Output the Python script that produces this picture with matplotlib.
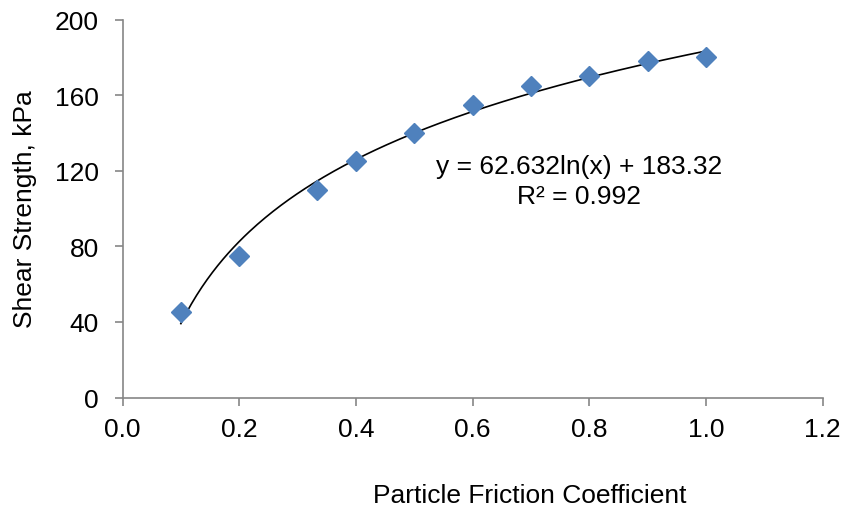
import numpy as np
import matplotlib
matplotlib.use('Agg')
from matplotlib import pyplot as plt

# data
friction = [0.1, 0.2, 0.333, 0.4, 0.5, 0.6, 0.7, 0.8, 0.9, 1.0]
strength = [45, 75, 110, 125, 140, 155, 165, 170, 178, 180]

# log trendline coefficients shown on the chart
coef_a = 62.632
coef_b = 183.32
r2 = 0.992

plt.rcParams['font.family'] = ['Liberation Sans', 'DejaVu Sans']

fig = plt.figure(figsize=(8.42, 5.10), dpi=100)
ax = fig.add_axes([0.1455, 0.2186, 0.8314, 0.7412])

xs = np.linspace(min(friction), max(friction), 200)
ax.plot(xs, coef_a * np.log(xs) + coef_b, color='black', lw=1.2, zorder=2)
ax.plot(friction, strength, 'D', color='#4F81BD', ms=10.5, mec='#4F81BD', zorder=3)

ax.set_xlim(0, 1.2)
ax.set_ylim(0, 200)
ax.set_xticks(np.arange(0, 1.21, 0.2))
ax.set_xticklabels(['{:.1f}'.format(v) for v in np.arange(0, 1.21, 0.2)])
ax.set_yticks(range(0, 201, 40))

for s in ['top', 'right']:
    ax.spines[s].set_visible(False)
for s in ['left', 'bottom']:
    ax.spines[s].set_color('#868686')
    ax.spines[s].set_linewidth(1.2)

ax.tick_params(axis='both', colors='#868686', labelcolor='black', labelsize=19,
               length=6, width=1.2, direction='out')
ax.tick_params(axis='x', pad=8)
ax.tick_params(axis='y', pad=11)

ax.set_ylabel('Shear Strength, kPa', fontsize=19, labelpad=13)
fig.text(530 / 842, 1 - 496 / 510, 'Particle Friction Coefficient',
         ha='center', va='center', fontsize=19)

eq = 'y = {:.3f}ln(x) + {:.2f}\nR² = {:.3f}'.format(coef_a, coef_b, r2)
ax.text(0.782, 114.5, eq, ha='center', va='center', fontsize=19,
        linespacing=1.3, multialignment='center')

plt.savefig('out.png', dpi=100)
